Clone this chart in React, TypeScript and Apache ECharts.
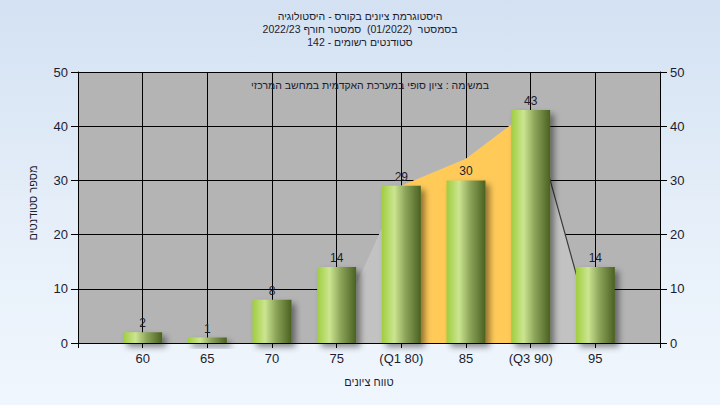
import React, { useEffect, useRef } from "react";
import * as echarts from "echarts";

const titleLines = [
  "היסטוגרמת ציונים בקורס - היסטולוגיה",
  "בסמסטר  (01/2022)  סמסטר חורף 2022/23",
  "סטודנטים רשומים - 142",
];
const subtitle = "במשימה : ציון סופי במערכת האקדמית במחשב המרכזי";
const yAxisName = "מספר סטודנטים";
const xAxisName = "טווח ציונים";

const categories = ["", "60", "65", "70", "75", "(Q1 80)", "85", "(Q3 90)", "95", ""];
const counts: (number | null)[] = [null, 2, 1, 8, 14, 29, 30, 43, 14, null];
const grayArea: (number | null)[] = [null, null, null, null, 3, 29, 34, 43, 0, null];
const quartileArea: (number | null)[] = [null, null, null, null, null, 29, 34, 43, null, null];
const edgeLine: (number | null)[] = [null, null, null, null, null, null, null, 43, 0, null];

const FONT = "'Liberation Sans', 'DejaVu Sans', Arial, sans-serif";
const TXT = "#1c1c30";

export default function App() {
  const ref = useRef<HTMLDivElement>(null);
  useEffect(() => {
    if (!ref.current) return;
    const chart = echarts.init(ref.current, null, { renderer: "svg" });
    const barColor = new echarts.graphic.LinearGradient(0, 0, 1, 0, [
      { offset: 0, color: "#9fcd3e" },
      { offset: 0.32, color: "#cce591" },
      { offset: 0.6, color: "#8ca55a" },
      { offset: 1, color: "#4a6120" },
    ]);
    const yAxisCommon = {
      type: "value" as const,
      min: 0,
      max: 50,
      interval: 10,
      axisLine: { show: true, lineStyle: { color: "#000", width: 1 } },
      axisTick: { show: true, length: 7, lineStyle: { color: "#000" } },
      axisLabel: { color: TXT, fontSize: 13, fontFamily: FONT, margin: 10 },
    };
    chart.setOption({
      animation: false,
      backgroundColor: "transparent",
      textStyle: { fontFamily: FONT },
      title: {
        text: titleLines.join("\n"),
        left: "center",
        top: 5,
        textStyle: { fontSize: 10.5, fontWeight: "normal", color: TXT, fontFamily: FONT, lineHeight: 12.8 },
      },
      grid: { left: 78, right: 60, top: 72, bottom: 62, show: true, backgroundColor: "#b4b4b4", borderWidth: 0 },
      xAxis: {
        type: "category",
        data: categories,
        boundaryGap: false,
        name: xAxisName,
        nameLocation: "middle",
        nameGap: 33,
        nameTextStyle: { color: TXT, fontSize: 11, fontFamily: FONT },
        axisLine: { show: true, lineStyle: { color: "#000", width: 1 } },
        axisTick: { show: true, length: 5, alignWithLabel: true, lineStyle: { color: "#000" } },
        axisLabel: { color: TXT, fontSize: 13, fontFamily: FONT, margin: 9, interval: 0 },
        splitLine: { show: true, lineStyle: { color: "#000", width: 1 } },
      },
      yAxis: [
        {
          ...yAxisCommon,
          position: "left",
          splitLine: { show: true, lineStyle: { color: "#000", width: 1 } },
        },
        {
          ...yAxisCommon,
          position: "right",
          splitLine: { show: false },
        },
      ],
      graphic: [
        {
          type: "text",
          x: 370,
          y: 85,
          style: {
            text: subtitle,
            fill: TXT,
            font: `10.5px ${FONT}`,
            textAlign: "center",
            textVerticalAlign: "middle",
          },
          z: 10,
        },
        {
          type: "text",
          x: 33,
          y: 203,
          rotation: Math.PI / 2,
          style: {
            text: yAxisName,
            fill: TXT,
            font: `11px ${FONT}`,
            textAlign: "center",
            textVerticalAlign: "middle",
          },
          z: 10,
        },
      ],
      series: [
        {
          type: "line",
          data: grayArea,
          symbol: "none",
          lineStyle: { width: 0 },
          areaStyle: { color: "#c2c2c2", opacity: 1 },
          z: 1,
          silent: true,
        },
        {
          type: "line",
          data: quartileArea,
          symbol: "none",
          lineStyle: { width: 0 },
          areaStyle: { color: "#ffca58", opacity: 1 },
          z: 2,
          silent: true,
        },
        {
          type: "line",
          data: edgeLine,
          symbol: "none",
          lineStyle: { width: 1.2, color: "#3a3a3a" },
          z: 3,
          silent: true,
        },
        {
          type: "bar",
          data: counts,
          barWidth: 39,
          z: 4,
          itemStyle: {
            color: barColor,
            shadowBlur: 6,
            shadowOffsetX: 4,
            shadowOffsetY: 4,
            shadowColor: "rgba(0,0,0,0.45)",
          },
          label: {
            show: true,
            position: "top",
            distance: 3,
            color: TXT,
            fontSize: 12,
            fontFamily: FONT,
          },
        },
      ],
    });
    return () => chart.dispose();
  }, []);
  return (
    <div
      style={{
        position: "fixed",
        left: 0,
        top: 0,
        width: 720,
        height: 405,
        background: "linear-gradient(180deg, #d3e1f2 0%, #e6eff9 55%, #f0f6fd 100%)",
      }}
    >
      <div ref={ref} style={{ width: 720, height: 405 }} />
    </div>
  );
}
